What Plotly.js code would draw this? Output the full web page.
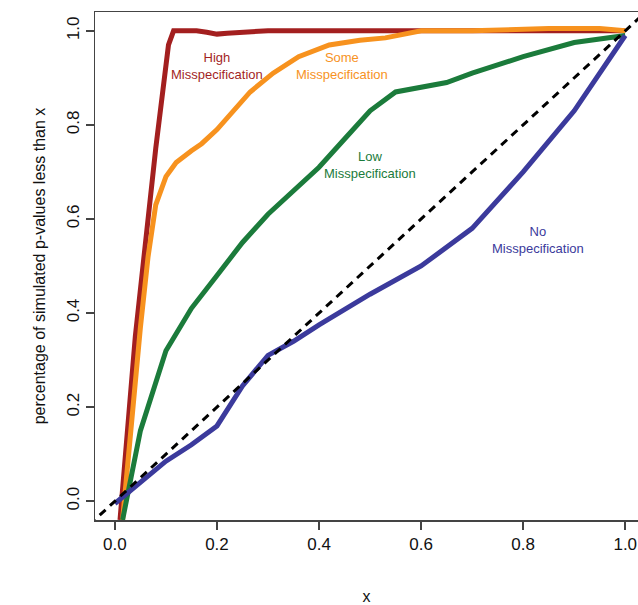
<!DOCTYPE html>
<html>
<head>
<meta charset="utf-8">
<script src="https://cdn.plot.ly/plotly-3.0.1.min.js"></script>
<style>body{margin:0;background:#fff}</style>
</head>
<body>
<div id="chart" style="width:638px;height:605px"></div>
<script>
// curves
var high_x = [0.01, 0.04, 0.08, 0.105, 0.115, 0.16, 0.18, 0.2, 0.22, 0.3, 0.5, 0.7, 0.9, 1.0];
var high_y = [-0.04, 0.35, 0.75, 0.97, 1.0, 1.0, 0.997, 0.993, 0.995, 1.0, 1.0, 1.0, 1.0, 1.0];

var some_x = [0.015, 0.035, 0.05, 0.065, 0.08, 0.1, 0.12, 0.15, 0.17, 0.2, 0.22, 0.265, 0.31, 0.36, 0.42, 0.48, 0.53, 0.6, 0.7, 0.85, 0.95, 1.0];
var some_y = [-0.04, 0.2, 0.37, 0.52, 0.63, 0.69, 0.72, 0.745, 0.76, 0.79, 0.815, 0.87, 0.91, 0.945, 0.97, 0.98, 0.985, 1.0, 1.0, 1.005, 1.005, 1.0];

var low_x = [0.015, 0.05, 0.1, 0.15, 0.2, 0.25, 0.3, 0.35, 0.4, 0.45, 0.5, 0.55, 0.6, 0.65, 0.7, 0.8, 0.9, 1.0];
var low_y = [-0.04, 0.15, 0.32, 0.41, 0.48, 0.55, 0.61, 0.66, 0.71, 0.77, 0.83, 0.87, 0.88, 0.89, 0.91, 0.945, 0.975, 0.99];

var no_x = [0.0, 0.05, 0.1, 0.15, 0.2, 0.25, 0.3, 0.35, 0.4, 0.5, 0.6, 0.7, 0.8, 0.9, 1.0];
var no_y = [-0.005, 0.04, 0.085, 0.12, 0.16, 0.245, 0.31, 0.34, 0.375, 0.44, 0.5, 0.58, 0.7, 0.83, 0.99];

var diag = [-0.05, 1.05];

var labels = ['High<br>Misspecification', 'Some<br>Misspecification', 'Low<br>Misspecification', 'No<br>Misspecification'];
var label_x = [0.2, 0.445, 0.5, 0.83];
var label_y = [0.925, 0.925, 0.715, 0.555];
var colours = ['#a31f1f', '#f7921e', '#1b7b3b', '#3b3a9c'];

var ticks = [0, 0.2, 0.4, 0.6, 0.8, 1.0];
var tick_text = ['0.0', '0.2', '0.4', '0.6', '0.8', '1.0'];

function curve(x, y, c) {
	return {x: x, y: y, type: 'scatter', mode: 'lines', line: {color: c, width: 5, shape: 'linear'}, hoverinfo: 'skip'};
}

var data = [
	curve(high_x, high_y, colours[0]),
	curve(some_x, some_y, colours[1]),
	curve(low_x, low_y, colours[2]),
	curve(no_x, no_y, colours[3]),
	{x: diag, y: diag, type: 'scatter', mode: 'lines', line: {color: '#000', width: 3, dash: '8px,6px'}, hoverinfo: 'skip'}
];

var annotations = [];
for (var i = 0; i < labels.length; i++) {
	annotations.push({x: label_x[i], y: label_y[i], text: labels[i], showarrow: false,
		font: {color: colours[i], size: 13, family: 'Liberation Sans, Arial'}});
}

var axis_common = {
	showgrid: false, zeroline: false, showline: true, linecolor: '#444', linewidth: 1.5, mirror: true,
	ticks: 'outside', ticklen: 8, tickwidth: 1.5, tickcolor: '#444',
	tickvals: ticks, ticktext: tick_text,
	tickfont: {size: 17, family: 'Liberation Sans, Arial', color: '#111'}
};

var layout = {
	width: 638, height: 605,
	margin: {l: 95, r: 0, t: 12, b: 85},
	showlegend: false,
	plot_bgcolor: '#fff', paper_bgcolor: '#fff',
	xaxis: Object.assign({}, axis_common, {range: [-0.039, 1.025],
		title: {text: 'x', standoff: 38, font: {size: 16, family: 'Liberation Sans, Arial', color: '#111'}}}),
	yaxis: Object.assign({}, axis_common, {range: [-0.04, 1.04], tickangle: -90,
		title: {text: 'percentage of simulated p-values less than x', standoff: 14, font: {size: 16, family: 'Liberation Sans, Arial', color: '#111'}}}),
	annotations: annotations
};

Plotly.newPlot('chart', data, layout, {displayModeBar: false, staticPlot: true});
</script>
</body>
</html>
